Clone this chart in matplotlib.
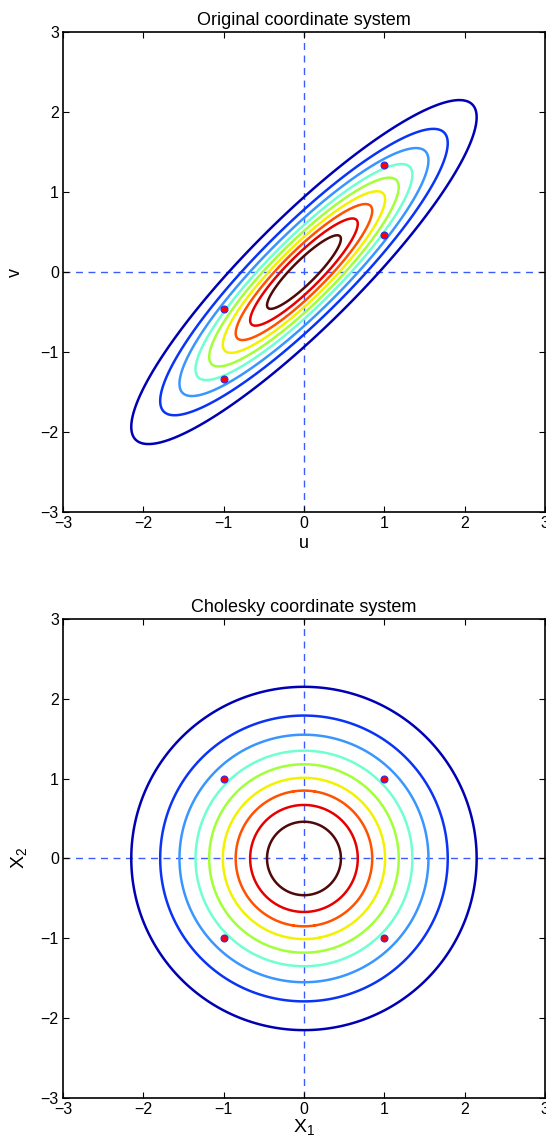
import numpy as np
import matplotlib
matplotlib.use("Agg")
import matplotlib.pyplot as plt

# radios de los contornos (distancia de Mahalanobis)
radios = [0.46, 0.67, 0.85, 1.01, 1.18, 1.35, 1.55, 1.79, 2.15]
# correlacion entre u y v
rho = 0.9
# puntos en el sistema de Cholesky
pts_x1 = [-1, -1, 1, 1]
pts_x2 = [-1, 1, -1, 1]
ticks = [-3, -2, -1, 0, 1, 2, 3]

# colores del mas interno al mas externo (estilo jet)
colores = ['#500808', '#e60000', '#ff5200', '#f2f200', '#a2ff3a',
           '#70ffd0', '#3a96ff', '#0a34f5', '#0000b4']

plt.rcParams['font.family'] = ['Liberation Sans', 'DejaVu Sans']
plt.rcParams['font.size'] = 11
plt.rcParams['mathtext.fontset'] = 'custom'
plt.rcParams['mathtext.rm'] = 'Liberation Sans'
plt.rcParams['mathtext.it'] = 'Liberation Sans'

# factor de Cholesky
L = np.array([[1.0, 0.0], [rho, np.sqrt(1 - rho**2)]])

g = np.linspace(-3, 3, 601)
U, V = np.meshgrid(g, g)
# distancia en coordenadas originales
Z1 = U
Z2 = (V - L[1, 0] * U) / L[1, 1]
R_orig = np.sqrt(Z1**2 + Z2**2)
R_chol = np.sqrt(U**2 + V**2)

pts = L @ np.vstack([pts_x1, pts_x2])

fig = plt.figure(figsize=(5.46, 11.46), dpi=100)
ax1 = fig.add_axes([0.1154, 0.5532, 0.8826, 0.4188])
ax2 = fig.add_axes([0.1154, 0.0419, 0.8826, 0.418])


def formato(ax, titulo):
  ax.set_xlim(-3, 3)
  ax.set_ylim(-3, 3)
  ax.set_xticks(ticks)
  ax.set_yticks(ticks)
  ax.set_xticklabels([str(t).replace('-', '\u2212') for t in ticks])
  ax.set_yticklabels([str(t).replace('-', '\u2212') for t in ticks])
  ax.tick_params(direction='in', length=4, width=0.8, top=True, right=True,
                 labelsize=11.5, pad=3)
  for s in ax.spines.values():
    s.set_linewidth(1.2)
  ax.axhline(0, color='#3a5cff', linestyle=(0, (5, 4)), lw=1, zorder=1)
  ax.axvline(0, color='#3a5cff', linestyle=(0, (5, 4)), lw=1, zorder=1)
  ax.set_title(titulo, fontsize=13, pad=5)


ax1.contour(U, V, R_orig, levels=radios, colors=colores, linewidths=1.8, zorder=2)
ax1.plot(pts[0], pts[1], 'o', ms=5, mfc='red', mec='#2030ff', mew=0.8, zorder=3)
formato(ax1, 'Original coordinate system')
ax1.set_xlabel('u', fontsize=13, labelpad=3)
ax1.set_ylabel('v', fontsize=13, labelpad=12)

ax2.contour(U, V, R_chol, levels=radios, colors=colores, linewidths=1.8, zorder=2)
ax2.plot(pts_x1, pts_x2, 'o', ms=5, mfc='red', mec='#2030ff', mew=0.8, zorder=3)
formato(ax2, 'Cholesky coordinate system')
ax2.set_xlabel('X$_1$', fontsize=14, labelpad=0)
ax2.set_ylabel('X$_2$', fontsize=14, labelpad=8)

fig.savefig('out.png', dpi=100)
